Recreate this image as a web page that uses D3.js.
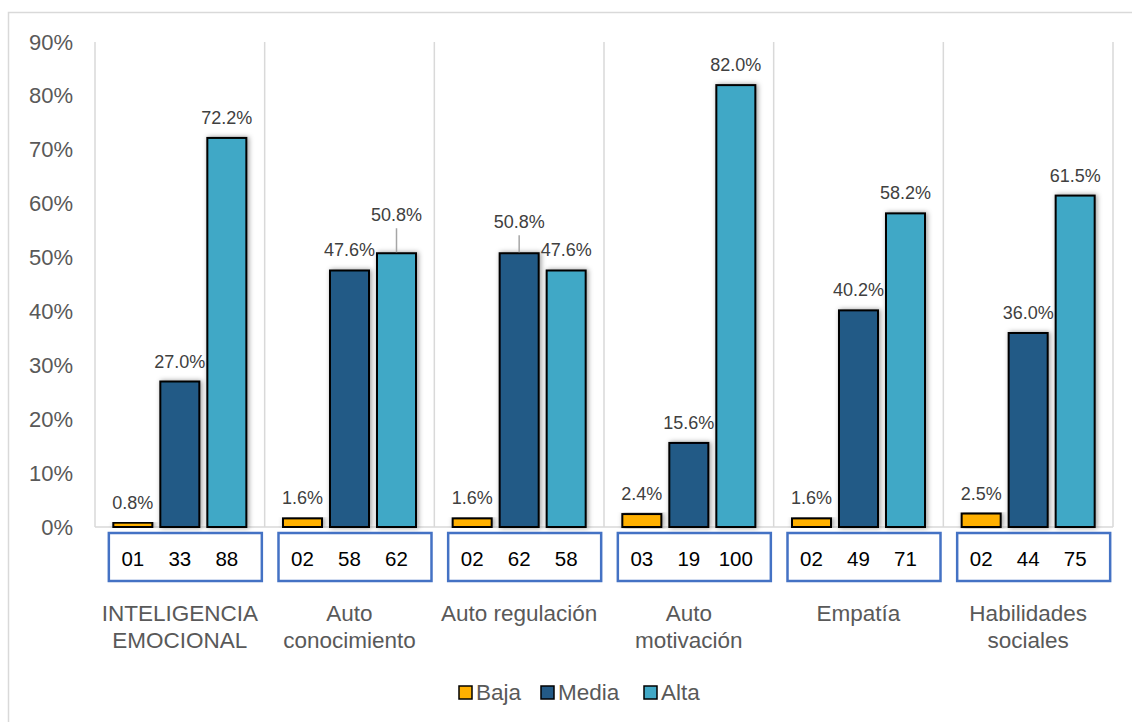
<!DOCTYPE html>
<html>
<head>
<meta charset="utf-8">
<script src="https://cdn.jsdelivr.net/npm/d3@7"></script>
<style>
  body { margin: 0; background: #fff; }
  svg text { font-family: "Liberation Sans", Arial, sans-serif; }
</style>
</head>
<body>
<div id="chart"></div>
<script>
// chart data
const categories = [
  ['INTELIGENCIA', 'EMOCIONAL'],
  ['Auto', 'conocimiento'],
  ['Auto regulación'],
  ['Auto', 'motivación'],
  ['Empatía'],
  ['Habilidades', 'sociales']
];
const seriesNames = ['Baja', 'Media', 'Alta'];
const baja  = [0.008, 0.016, 0.016, 0.024, 0.016, 0.025];
const media = [0.270, 0.476, 0.508, 0.156, 0.402, 0.360];
const alta  = [0.722, 0.508, 0.476, 0.820, 0.582, 0.615];
const counts = [
  ['01', '33', '88'],
  ['02', '58', '62'],
  ['02', '62', '58'],
  ['03', '19', '100'],
  ['02', '49', '71'],
  ['02', '44', '75']
];
const yTicks = [0, 0.1, 0.2, 0.3, 0.4, 0.5, 0.6, 0.7, 0.8, 0.9];

const colors = { Baja: '#FFB000', Media: '#235A86', Alta: '#41A8C6' };

const W = 1132, H = 722;
const margin = { top: 42, right: 19, bottom: 195, left: 95 };
const plotBottom = H - margin.bottom; // 527

const svg = d3.select('#chart').append('svg')
  .attr('width', W)
  .attr('height', H);

// soft shadow around the bars
const defs = svg.append('defs');
const shadow = defs.append('filter')
  .attr('id', 'shadow')
  .attr('x', '-30%').attr('y', '-10%')
  .attr('width', '160%').attr('height', '120%');
shadow.append('feDropShadow')
  .attr('dx', 1.5).attr('dy', 0)
  .attr('stdDeviation', 2.6)
  .attr('flood-color', '#000')
  .attr('flood-opacity', 0.4);

// outer frame
svg.append('rect')
  .attr('x', 8.5).attr('y', 12.5)
  .attr('width', W).attr('height', H)
  .attr('fill', 'none')
  .attr('stroke', '#d9d9d9')
  .attr('stroke-width', 1.5);

const x0 = d3.scaleBand()
  .domain(d3.range(categories.length))
  .range([margin.left, W - margin.right])
  .padding(0);

const x1 = d3.scaleBand()
  .domain(seriesNames)
  .range([0, x0.bandwidth()])
  .paddingInner(0.17)
  .paddingOuter(0.39);

const y = d3.scaleLinear()
  .domain([0, 0.9])
  .range([plotBottom, margin.top]);

// category separators
const bounds = d3.range(categories.length + 1).map(i =>
  i < categories.length ? x0(i) : x0(i - 1) + x0.bandwidth());
svg.append('g')
  .selectAll('line')
  .data(bounds)
  .join('line')
  .attr('x1', d => d).attr('x2', d => d)
  .attr('y1', margin.top).attr('y2', plotBottom)
  .attr('stroke', '#d9d9d9')
  .attr('stroke-width', 1.5);

// baseline
svg.append('line')
  .attr('x1', margin.left).attr('x2', W - margin.right)
  .attr('y1', plotBottom).attr('y2', plotBottom)
  .attr('stroke', '#d9d9d9')
  .attr('stroke-width', 1.5);

// y axis
const yAxis = svg.append('g')
  .attr('transform', `translate(${margin.left},0)`)
  .call(d3.axisLeft(y)
    .tickValues(yTicks)
    .tickFormat(d3.format('.0%'))
    .tickSize(0)
    .tickPadding(22));
yAxis.select('.domain').remove();
yAxis.selectAll('text')
  .attr('fill', '#595959')
  .style('font-size', '22px');

// bars
const rows = categories.map((c, i) => ({
  i,
  values: [
    { key: 'Baja', v: baja[i] },
    { key: 'Media', v: media[i] },
    { key: 'Alta', v: alta[i] }
  ]
}));

const groups = svg.append('g')
  .selectAll('g')
  .data(rows)
  .join('g')
  .attr('transform', d => `translate(${x0(d.i)},0)`);

groups.selectAll('rect')
  .data(d => d.values)
  .join('rect')
  .attr('x', d => x1(d.key))
  .attr('y', d => y(d.v))
  .attr('width', x1.bandwidth())
  .attr('height', d => plotBottom - y(d.v))
  .attr('fill', d => colors[d.key])
  .attr('stroke', '#000')
  .attr('stroke-width', 2)
  .attr('filter', 'url(#shadow)');

// labels that were pulled up, with leader lines
const lifted = { '1-Alta': 18, '2-Media': 11 };

groups.each(function (row) {
  const g = d3.select(this);
  row.values.forEach(d => {
    const cx = x1(d.key) + x1.bandwidth() / 2;
    const top = y(d.v);
    const lift = lifted[row.i + '-' + d.key] || 0;
    const base = top - 14 - lift;
    if (lift) {
      g.append('line')
        .attr('x1', cx).attr('x2', cx)
        .attr('y1', base + 7).attr('y2', top - 1)
        .attr('stroke', '#a6a6a6')
        .attr('stroke-width', 1.5);
    }
    g.append('text')
      .attr('x', cx)
      .attr('y', base)
      .attr('text-anchor', 'middle')
      .attr('fill', '#404040')
      .style('font-size', '18px')
      .text(d3.format('.1%')(d.v));
  });
});

// count boxes under each group
groups.append('rect')
  .attr('x', x0.bandwidth() / 2 - 76 + 5)
  .attr('y', 533)
  .attr('width', 153)
  .attr('height', 48)
  .attr('fill', '#fff')
  .attr('stroke', '#4472C4')
  .attr('stroke-width', 2.5);

groups.selectAll('text.count')
  .data(d => counts[d.i].map((c, k) => ({ c, key: seriesNames[k] })))
  .join('text')
  .attr('class', 'count')
  .attr('x', d => x1(d.key) + x1.bandwidth() / 2)
  .attr('y', 566)
  .attr('text-anchor', 'middle')
  .attr('fill', '#000')
  .style('font-size', '20.5px')
  .text(d => d.c);

// category labels
groups.append('text')
  .attr('text-anchor', 'middle')
  .attr('fill', '#595959')
  .style('font-size', '22.5px')
  .selectAll('tspan')
  .data(d => categories[d.i])
  .join('tspan')
  .attr('x', x0.bandwidth() / 2)
  .attr('y', (d, k) => 621 + k * 27)
  .text(d => d);

// legend
const legendItems = [
  { key: 'Baja', x: 459 },
  { key: 'Media', x: 541 },
  { key: 'Alta', x: 644 }
];
const legend = svg.append('g');
legend.selectAll('rect')
  .data(legendItems)
  .join('rect')
  .attr('x', d => d.x)
  .attr('y', 686)
  .attr('width', 13)
  .attr('height', 13)
  .attr('fill', d => colors[d.key])
  .attr('stroke', '#000')
  .attr('stroke-width', 1.5);
legend.selectAll('text')
  .data(legendItems)
  .join('text')
  .attr('x', d => d.x + 17)
  .attr('y', 700)
  .attr('fill', '#595959')
  .style('font-size', '22.5px')
  .text(d => d.key);
</script>
</body>
</html>
